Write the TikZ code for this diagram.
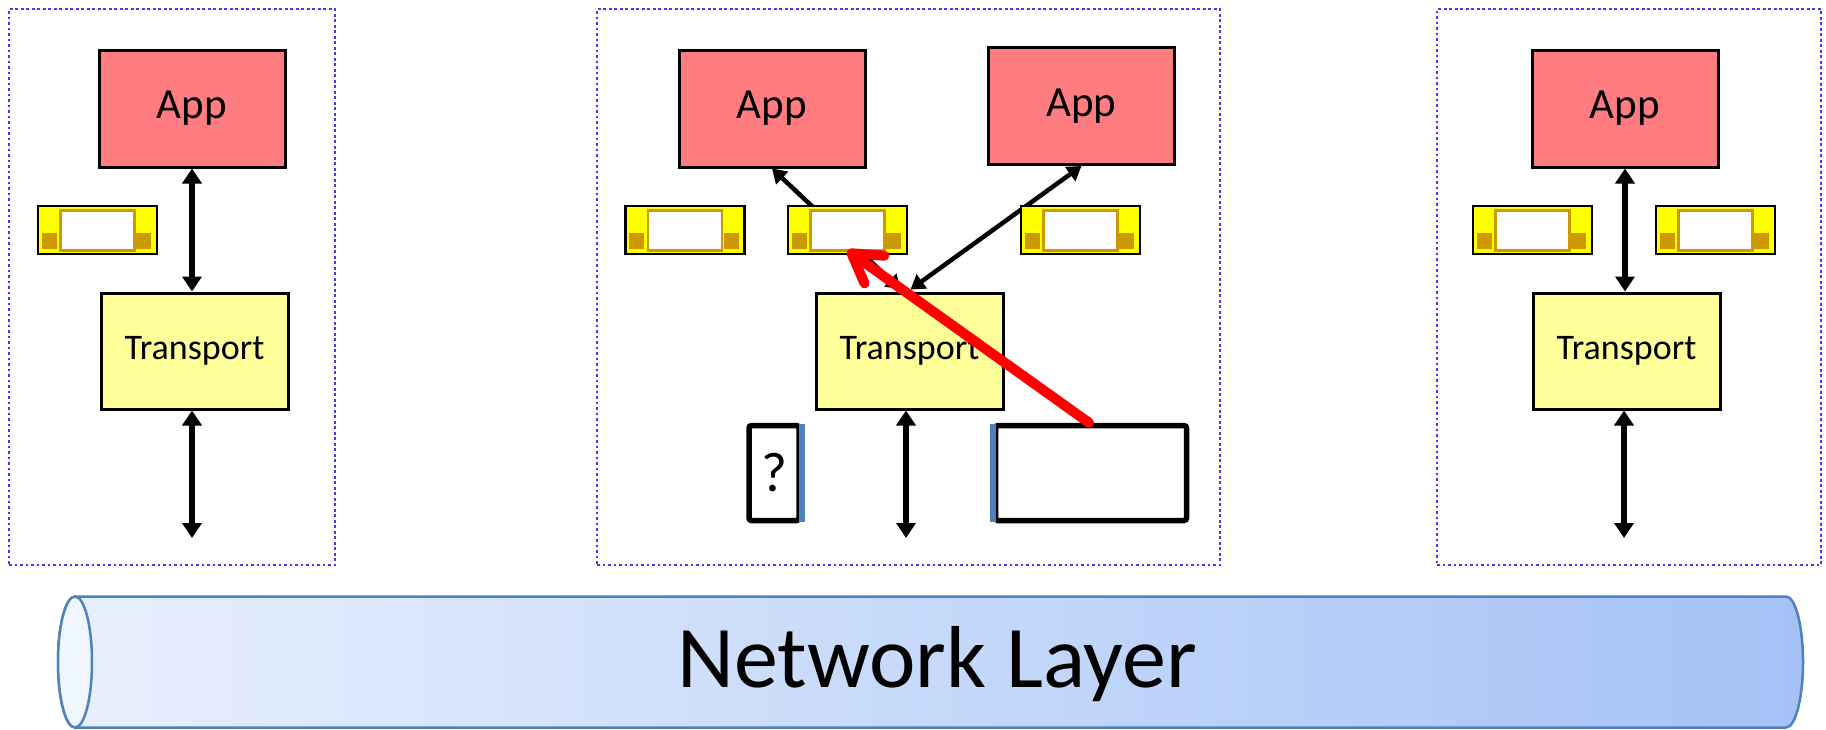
\documentclass[tikz,border=0pt]{standalone}
\usepackage{fontspec}
\setmainfont{Carlito}
\usetikzlibrary{arrows.meta,shadows}
\definecolor{appred}{RGB}{255,124,128}
\definecolor{transy}{RGB}{255,255,153}
\definecolor{sockety}{RGB}{255,255,0}
\definecolor{gold}{RGB}{204,153,0}
\definecolor{dotblue}{RGB}{60,60,250}
\definecolor{edgeblue}{RGB}{79,129,189}
\definecolor{cylL}{RGB}{232,240,253}
\definecolor{cylR}{RGB}{164,194,246}
\definecolor{cylE}{RGB}{240,246,254}
\definecolor{cylB}{RGB}{79,129,189}
\newcommand\socketat[3]{%
  \node[socketbox] (#1) at (#2,#3) {};
  \draw[draw=gold,line width=2.5pt,fill=white] ([xshift=24pt,yshift=-6pt]#1.north west) rectangle ([xshift=-24pt,yshift=5pt]#1.south east);
  \fill[gold] ([xshift=5pt,yshift=-28pt]#1.north west) rectangle ([xshift=20pt,yshift=-44pt]#1.north west);
  \fill[gold] ([xshift=-22pt,yshift=-28pt]#1.north east) rectangle ([xshift=-7pt,yshift=-44pt]#1.north east);
}
\begin{document}
\begin{tikzpicture}[x=1pt,y=-1pt,
  host/.style={draw=dotblue,line width=2.7pt,dash pattern=on 2.7pt off 2.8pt,inner sep=0,minimum height=556pt},
  appbox/.style={draw,line width=3pt,fill=appred,minimum width=186pt,minimum height=117pt,inner sep=0,font=\fontsize{43}{50}\selectfont},
  transbox/.style={draw,line width=3pt,fill=transy,minimum width=187pt,minimum height=116pt,inner sep=0,font=\fontsize{36}{42}\selectfont},
  socketbox/.style={draw,line width=2.8pt,fill=sockety,minimum width=119pt,minimum height=48pt,inner sep=0},
  dbl/.style={line width=5.5pt,{Triangle[length=15pt,width=19pt]}-{Triangle[length=15pt,width=19pt]}},
  dbld/.style={line width=4.5pt,{Triangle[length=14pt,width=17pt]}-{Triangle[length=14pt,width=17pt]}},
  tcpbox/.style={draw,line width=5.5pt,rounded corners=2.5pt,fill=white,inner sep=0,minimum height=95pt,
    drop shadow={shadow xshift=2pt,shadow yshift=-2pt,opacity=0.18}},
  blueedge/.style={draw=edgeblue,line width=5.5pt}
]
\useasboundingbox (0,0) rectangle (1826,729);

% host frames
\node[host,minimum width=326pt] (HL) at (172,287) {};
\node[host,minimum width=623pt] (HM) at (908.5,287) {};
\node[host,minimum width=384pt] (HR) at (1629,287) {};

% left host
\node[appbox] (AL) at (192,108.5) {App};
\node[transbox] (TL) at (194.5,351) {\raisebox{5pt}{Transport}};
\coordinate (eL) at (192,538);
\draw[dbl] (AL.south) -- (AL.south |- TL.north);
\draw[dbl] (eL |- TL.south) -- (eL);
\socketat{SL}{97.5}{230}

% middle host
\node[appbox] (AM1) at (772,108.5) {App};
\node[appbox] (AM2) at (1081.5,106) {App};
\node[transbox] (TM) at (909.5,351) {\raisebox{5pt}{Transport}};
\coordinate (eM) at (906,538);
\draw[dbld] (AM1.south) -- ([xshift=-9pt,yshift=2pt]TM.north);
\draw[dbld] (AM2.south) -- ([xshift=1pt,yshift=2pt]TM.north);
\draw[dbl] (eM |- TM.south) -- (eM);
\socketat{SM1}{685}{230}
\socketat{SM2}{847.5}{230}
\socketat{SM3}{1080.5}{230}
\node[tcpbox,minimum width=50pt,font=\fontsize{56}{64}\selectfont] (QB) at (774,473) {?};
\draw[blueedge] ([yshift=-1pt]QB.north east) -- ([yshift=1pt]QB.south east);
\node[tcpbox,minimum width=191pt] (BB) at (1091,473) {};
\draw[blueedge] ([yshift=-1pt]BB.north west) -- ([yshift=1pt]BB.south west);
\draw[red,line width=10pt,line cap=round,-{Straight Barb[length=28pt,width=34pt,round]}] ([xshift=-2pt]BB.north) -- ([yshift=5pt]SM2.south);

% right host
\node[appbox] (AR) at (1625,108.5) {App};
\node[transbox] (TR) at (1626.5,351) {\raisebox{5pt}{Transport}};
\coordinate (eR) at (1624,538);
\draw[dbl] (AR.south) -- (AR.south |- TR.north);
\draw[dbl] (eR |- TR.south) -- (eR);
\socketat{SR1}{1532.5}{230}
\socketat{SR2}{1715.5}{230}

% network layer pipe
\path[draw=cylB,line width=2.5pt,left color=cylL,right color=cylR]
  (75,596.5) -- (1786,596.5) arc[start angle=90,end angle=-90,x radius=17pt,y radius=65.5pt]
  -- (75,727.5) arc[start angle=270,end angle=90,x radius=17pt,y radius=65.5pt] -- cycle;
\draw[draw=cylB,line width=2.5pt,fill=cylE] (75,662) ellipse[x radius=17pt,y radius=65.5pt];
\node[inner sep=0,font=\fontsize{88}{100}\selectfont] (NL) at (937,664) {Network Layer};
\end{tikzpicture}
\end{document}
